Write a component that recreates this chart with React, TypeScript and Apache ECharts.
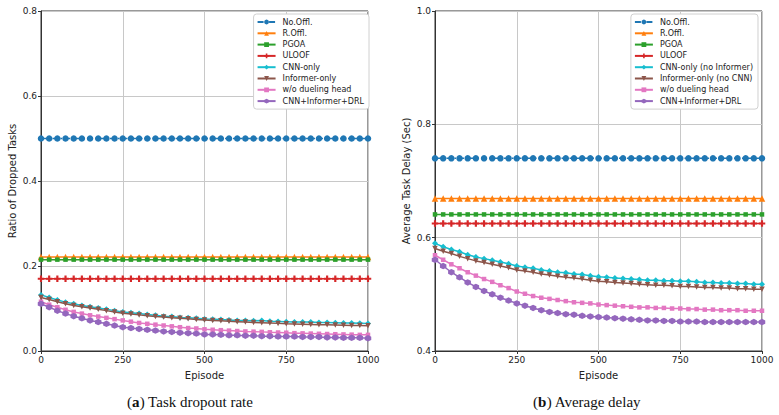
import React, { useEffect, useRef } from "react";
import * as echarts from "echarts";

// Episodes sampled every 25 steps
const episodes: number[] = [];
for (let e = 0; e <= 1000; e += 25) episodes.push(e);

const seriesNamesA = ["No.Offl.", "R.Offl.", "PGOA", "ULOOF", "CNN-only", "Informer-only", "w/o dueling head", "CNN+Informer+DRL"];
const seriesNamesB = ["No.Offl.", "R.Offl.", "PGOA", "ULOOF", "CNN-only (no Informer)", "Informer-only (no CNN)", "w/o dueling head", "CNN+Informer+DRL"];

// (a) ratio of dropped tasks — constant baselines
const dropNoOffl = 0.5;
const dropROffl = 0.221;
const dropPGOA = 0.215;
const dropULOOF = 0.17;
const dropCNN = [0.132, 0.126, 0.120, 0.115, 0.111, 0.107, 0.104, 0.101, 0.098, 0.095, 0.092, 0.090, 0.088, 0.086, 0.084, 0.082, 0.081, 0.079, 0.078, 0.077, 0.0755, 0.075, 0.074, 0.073, 0.072, 0.0715, 0.071, 0.072, 0.070, 0.0695, 0.069, 0.0685, 0.068, 0.068, 0.067, 0.067, 0.0665, 0.066, 0.066, 0.0655, 0.065];
const dropInformer = [0.126, 0.121, 0.116, 0.111, 0.107, 0.104, 0.101, 0.098, 0.095, 0.092, 0.089, 0.087, 0.085, 0.083, 0.081, 0.080, 0.078, 0.077, 0.076, 0.074, 0.073, 0.072, 0.071, 0.070, 0.069, 0.068, 0.067, 0.0665, 0.066, 0.065, 0.064, 0.0635, 0.063, 0.0625, 0.062, 0.0615, 0.061, 0.0605, 0.060, 0.060, 0.0595];
const dropNoDueling = [0.116, 0.109, 0.103, 0.097, 0.092, 0.088, 0.084, 0.081, 0.078, 0.075, 0.072, 0.069, 0.066, 0.064, 0.062, 0.060, 0.058, 0.056, 0.054, 0.053, 0.051, 0.050, 0.049, 0.048, 0.047, 0.046, 0.0455, 0.045, 0.044, 0.0435, 0.043, 0.042, 0.0415, 0.041, 0.0405, 0.040, 0.0395, 0.039, 0.0385, 0.038, 0.038];
const dropFull = [0.111, 0.103, 0.095, 0.088, 0.082, 0.077, 0.072, 0.068, 0.064, 0.060, 0.056, 0.054, 0.052, 0.050, 0.048, 0.046, 0.045, 0.043, 0.042, 0.041, 0.039, 0.039, 0.038, 0.037, 0.037, 0.036, 0.036, 0.035, 0.035, 0.034, 0.034, 0.034, 0.033, 0.033, 0.033, 0.032, 0.032, 0.031, 0.031, 0.031, 0.030];

// (b) average task delay in seconds
const delayNoOffl = 0.74;
const delayROffl = 0.669;
const delayPGOA = 0.641;
const delayULOOF = 0.625;
const delayCNN = [0.590, 0.584, 0.579, 0.575, 0.570, 0.566, 0.563, 0.560, 0.557, 0.554, 0.550, 0.548, 0.546, 0.543, 0.541, 0.539, 0.538, 0.536, 0.535, 0.533, 0.531, 0.530, 0.529, 0.528, 0.527, 0.526, 0.525, 0.525, 0.524, 0.524, 0.523, 0.523, 0.522, 0.521, 0.521, 0.520, 0.520, 0.519, 0.519, 0.518, 0.518];
const delayInformer = [0.581, 0.576, 0.572, 0.567, 0.563, 0.559, 0.556, 0.553, 0.550, 0.547, 0.543, 0.541, 0.539, 0.536, 0.534, 0.532, 0.530, 0.529, 0.527, 0.525, 0.523, 0.522, 0.521, 0.520, 0.519, 0.518, 0.517, 0.516, 0.516, 0.515, 0.514, 0.514, 0.513, 0.512, 0.512, 0.511, 0.511, 0.510, 0.510, 0.509, 0.509];
const delayNoDueling = [0.569, 0.561, 0.553, 0.546, 0.539, 0.533, 0.527, 0.522, 0.516, 0.511, 0.505, 0.501, 0.497, 0.494, 0.492, 0.490, 0.488, 0.486, 0.485, 0.484, 0.482, 0.481, 0.480, 0.479, 0.478, 0.477, 0.477, 0.476, 0.476, 0.475, 0.475, 0.474, 0.474, 0.473, 0.473, 0.472, 0.472, 0.472, 0.471, 0.471, 0.471];
const delayFull = [0.561, 0.550, 0.539, 0.530, 0.521, 0.513, 0.506, 0.500, 0.494, 0.489, 0.484, 0.480, 0.476, 0.472, 0.469, 0.467, 0.465, 0.464, 0.462, 0.461, 0.460, 0.459, 0.458, 0.457, 0.456, 0.455, 0.454, 0.454, 0.453, 0.453, 0.452, 0.452, 0.452, 0.451, 0.451, 0.451, 0.451, 0.451, 0.451, 0.451, 0.451];

const colors = ["#1f77b4", "#ff7f0e", "#2ca02c", "#d62728", "#17becf", "#8c564b", "#e377c2", "#9467bd"];

const PLUS = "path://M-1,-3H1V-1H3V1H1V3H-1V1H-3V-1H-1Z";
const HEX = "path://M0,-1L0.866,-0.5L0.866,0.5L0,1L-0.866,0.5L-0.866,-0.5Z";

const symbols: { symbol: string; size: number; rotate?: number }[] = [
  { symbol: "circle", size: 6.5 },
  { symbol: "triangle", size: 6.5 },
  { symbol: "rect", size: 4.5 },
  { symbol: PLUS, size: 6.5 },
  { symbol: "diamond", size: 6 },
  { symbol: "triangle", size: 5.5, rotate: 180 },
  { symbol: "rect", size: 4.5 },
  { symbol: HEX, size: 6.5 },
];

const flat = (v: number) => episodes.map(() => v);
const pairs = (vals: number[]) => episodes.map((e, i) => [e, vals[i]]);

const FONT = "DejaVu Sans";

function makeSeries(names: string[], data: number[][], axisIndex: number) {
  return names.map((name, i) => ({
    name,
    type: "line",
    xAxisIndex: axisIndex,
    yAxisIndex: axisIndex,
    data: pairs(data[i]),
    symbol: symbols[i].symbol,
    symbolSize: symbols[i].size,
    symbolRotate: symbols[i].rotate ?? 0,
    showSymbol: true,
    lineStyle: { color: colors[i], width: 1.5, type: i === 0 ? [6, 2, 1.5, 2] : "solid" },
    itemStyle: { color: colors[i] },
    z: 2 + i,
  }));
}

function xAxis(gridIndex: number) {
  return {
    type: "value",
    gridIndex,
    min: 0,
    max: 1000,
    interval: 250,
    name: "Episode",
    nameLocation: "middle",
    nameGap: 19,
    nameTextStyle: { fontFamily: FONT, fontSize: 10, color: "#222" },
    axisLine: { show: true, lineStyle: { color: "#333", width: 1 } },
    axisTick: { show: true, length: 3, lineStyle: { color: "#333" } },
    axisLabel: { fontFamily: FONT, fontSize: 9, color: "#222", margin: 4, formatter: (v: number) => String(v) },
    splitLine: { show: true, lineStyle: { color: "#c8c8c8", width: 1 } },
  };
}

function yAxis(gridIndex: number, min: number, max: number, name: string) {
  return {
    type: "value",
    gridIndex,
    min,
    max,
    interval: 0.2,
    name,
    nameLocation: "middle",
    nameGap: 24,
    nameTextStyle: { fontFamily: FONT, fontSize: 10, color: "#222" },
    axisLine: { show: true, lineStyle: { color: "#333", width: 1 } },
    axisTick: { show: true, length: 3, lineStyle: { color: "#333" } },
    axisLabel: { fontFamily: FONT, fontSize: 9, color: "#222", margin: 4, formatter: (v: number) => v.toFixed(1) },
    splitLine: { show: true, lineStyle: { color: "#c8c8c8", width: 1 } },
  };
}

function legend(names: string[], right: number) {
  return {
    data: names,
    orient: "vertical",
    right,
    top: 14,
    itemWidth: 18,
    itemHeight: 6,
    itemGap: 3.3,
    padding: [4, 5, 4, 3],
    backgroundColor: "#ffffff",
    borderColor: "#d0d0d0",
    borderWidth: 1,
    borderRadius: 3,
    textStyle: { fontFamily: FONT, fontSize: 8, color: "#222", padding: [0, 0, 0, 2] },
    selectedMode: false,
  };
}

function caption(label: string, rest: string, x: number) {
  return {
    type: "text",
    x,
    y: 402,
    style: {
      text: "({b|" + label + "}) " + rest,
      rich: { b: { fontWeight: "bold", fontFamily: "Liberation Serif", fontSize: 15, fill: "#111" } },
      fontFamily: "Liberation Serif",
      fontSize: 15,
      fill: "#111",
      align: "center",
      verticalAlign: "middle",
    },
  };
}

export default function App() {
  const ref = useRef<HTMLDivElement>(null);

  useEffect(() => {
    if (!ref.current) return;
    const chart = echarts.init(ref.current, undefined, { renderer: "svg" });

    const dataA = [flat(dropNoOffl), flat(dropROffl), flat(dropPGOA), flat(dropULOOF), dropCNN, dropInformer, dropNoDueling, dropFull];
    const dataB = [flat(delayNoOffl), flat(delayROffl), flat(delayPGOA), flat(delayULOOF), delayCNN, delayInformer, delayNoDueling, delayFull];

    chart.setOption({
      animation: false,
      backgroundColor: "#ffffff",
      grid: [
        { left: 41, right: 411, top: 11, bottom: 64, show: true, borderColor: "#333", borderWidth: 1, backgroundColor: "transparent" },
        { left: 435, right: 17, top: 11, bottom: 64, show: true, borderColor: "#333", borderWidth: 1, backgroundColor: "transparent" },
      ],
      xAxis: [xAxis(0), xAxis(1)],
      yAxis: [yAxis(0, 0, 0.8, "Ratio of Dropped Tasks"), yAxis(1, 0.4, 1.0, "Average Task Delay (Sec)")],
      legend: [legend(seriesNamesA, 410), legend(seriesNamesB, 21)],
      series: [...makeSeries(seriesNamesA, dataA, 0), ...makeSeries(seriesNamesB, dataB, 1)],
      graphic: [caption("a", "Task dropout rate", 190), caption("b", "Average delay", 587)],
    });

    return () => chart.dispose();
  }, []);

  return <div ref={ref} style={{ position: "fixed", left: 0, top: 0, width: 779, height: 415 }} />;
}
